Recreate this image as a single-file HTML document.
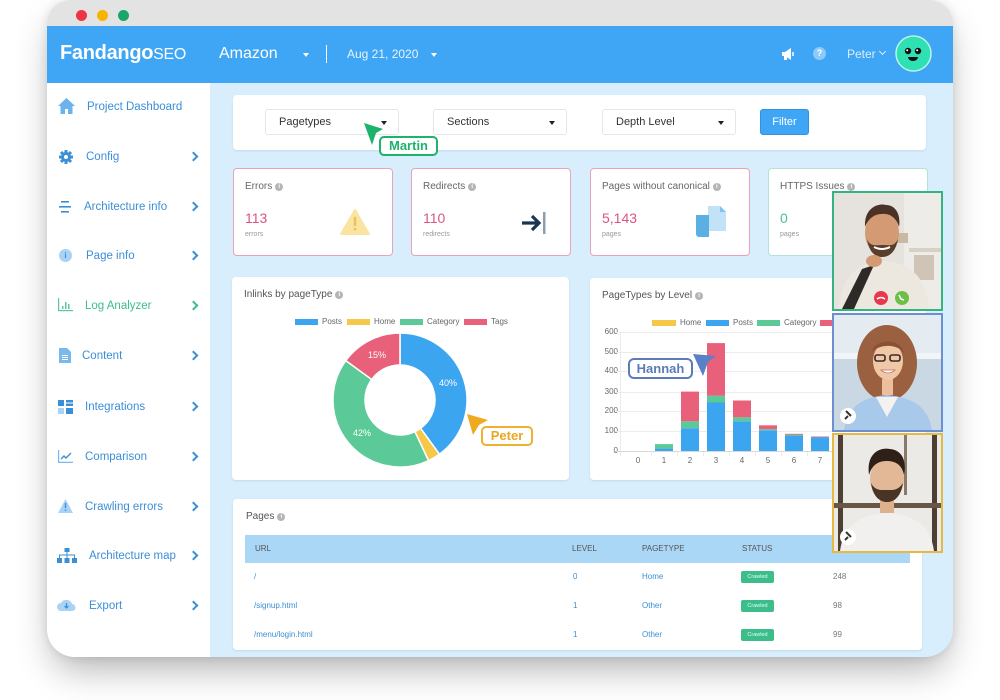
<!DOCTYPE html>
<html><head><meta charset="utf-8">
<style>
*{margin:0;padding:0;box-sizing:border-box}
html,body{width:1000px;height:700px;overflow:hidden;background:#fff;font-family:"Liberation Sans",sans-serif}
.a{position:absolute;white-space:nowrap}
#win{position:absolute;left:47px;top:0;width:906px;height:657px;border-radius:24px 24px 28px 28px;overflow:hidden;background:#d9eefd;box-shadow:0 18px 36px -6px rgba(0,0,0,0.30),0 0 10px rgba(0,0,0,0.10)}
.side{color:#3b8ed8;font-size:11.5px;line-height:14px}
.chev{position:absolute;width:7px;height:7px;border-right:2px solid #3a8fd6;border-top:2px solid #3a8fd6;transform:rotate(45deg)}
.panel{position:absolute;background:#fff;border-radius:4px;box-shadow:0 1px 2px rgba(150,180,210,0.35)}
.dd{position:absolute;background:#fff;border:1px solid #e6e6e6;border-radius:3px;height:26px;top:109px;width:134px;font-size:11px;color:#333;line-height:24px;padding-left:13px}
.dd:after{content:"";position:absolute;right:11px;top:11px;border-left:3.5px solid transparent;border-right:3.5px solid transparent;border-top:4px solid #222}
.card{position:absolute;top:168px;width:160px;height:88px;background:#fff;border:1px solid #e6a3bb;border-radius:4px}
.ct{position:absolute;left:11px;top:12px;font-size:10px;color:#666}
.cv{position:absolute;left:11px;top:41px;font-size:14px;color:#d9577e}
.cs{position:absolute;left:11px;top:62px;font-size:7px;color:#999}
.info{display:inline-block;width:8px;height:8px;border-radius:50%;background:#b5b5b5;color:#fff;font-size:6px;line-height:8px;text-align:center;vertical-align:1px;margin-left:3px;font-weight:bold}
.lg{position:absolute;font-size:8px;color:#666;line-height:10px}
.sw{position:absolute;height:6px;width:23px}
.yl{position:absolute;font-size:8px;color:#666;width:20px;text-align:right;left:598px;line-height:10px}
.xl{position:absolute;font-size:8px;color:#666;top:456px;width:10px;text-align:center;line-height:10px}
.th{position:absolute;top:544px;font-size:8px;color:#555;line-height:10px}
.td{position:absolute;font-size:8px;color:#3a8fd6;line-height:10px}
.tn{position:absolute;font-size:8px;color:#777;line-height:10px;left:833px}
.badge{position:absolute;left:741px;width:33px;height:12px;background:#3dbd8a;border-radius:2px;color:#dff;font-size:5.5px;line-height:12px;text-align:center}
.vid{position:absolute;overflow:hidden}
</style></head><body>

<div id="win">
  <div class="a" style="left:0;top:0;width:906px;height:26px;background:#e3e3e3"></div>
  <div class="a" style="left:0;top:26px;width:906px;height:57px;background:#3ea6f4"></div>
  <div class="a" style="left:0;top:83px;width:163px;height:574px;background:#fff"></div>
</div>

<!-- traffic lights -->
<div class="a" style="left:76px;top:10px;width:11px;height:11px;border-radius:50%;background:#ee3548"></div>
<div class="a" style="left:97px;top:10px;width:11px;height:11px;border-radius:50%;background:#f6b300"></div>
<div class="a" style="left:118px;top:10px;width:11px;height:11px;border-radius:50%;background:#1aa56a"></div>

<!-- header -->
<div class="a" style="left:60px;top:41px;font-size:20px;line-height:24px;color:#fff;font-weight:bold;letter-spacing:-0.3px">Fandango<span style="font-weight:normal;font-size:16px">SEO</span></div>
<div class="a" style="left:219px;top:44px;font-size:16px;line-height:20px;color:#fff">Amazon</div>
<div class="a" style="left:303px;top:53px;border-left:3px solid transparent;border-right:3px solid transparent;border-top:4px solid #fff"></div>
<div class="a" style="left:326px;top:45px;width:1px;height:18px;background:#fff"></div>
<div class="a" style="left:347px;top:47px;font-size:12px;line-height:14px;color:#e8f4ff">Aug 21, 2020</div>
<div class="a" style="left:431px;top:53px;border-left:3px solid transparent;border-right:3px solid transparent;border-top:4px solid #fff"></div>
<svg class="a" style="left:781px;top:47px" width="14" height="14" viewBox="0 0 14 14"><path d="M1 5h3l6-4v12l-6-4H1z" fill="#fff"/><rect x="3" y="9" width="3" height="4" fill="#fff"/><rect x="11" y="5" width="2" height="4" fill="#cfe8fc"/></svg>
<div class="a" style="left:813px;top:47px;width:13px;height:13px;border-radius:50%;background:#8ccaf8;color:#fff;font-size:9px;line-height:13px;text-align:center;font-weight:bold">?</div>
<div class="a" style="left:847px;top:47px;font-size:12px;line-height:14px;color:#ddeeff">Peter</div>
<div class="a" style="left:880px;top:49px;width:5px;height:5px;border-right:1px solid #ddeeff;border-bottom:1px solid #ddeeff;transform:rotate(45deg)"></div>
<svg class="a" style="left:895px;top:35px" width="37" height="37" viewBox="0 0 37 37"><circle cx="18.5" cy="18.5" r="17.5" fill="#2fe0b2" stroke="#b8f5e6" stroke-width="1.5"/><circle cx="13" cy="16" r="3.2" fill="#111"/><circle cx="23" cy="16" r="3.2" fill="#111"/><circle cx="12.2" cy="15.2" r="1" fill="#fff"/><circle cx="22.2" cy="15.2" r="1" fill="#fff"/><path d="M13 22h10a5 4 0 0 1-10 0z" fill="#111"/></svg>

<!-- sidebar -->
<svg class="a" style="left:57px;top:97px" width="19" height="18" viewBox="0 0 19 18"><path d="M9.5 1L1 9h2.5v8h4.5v-5h3v5h4.5V9H18z" fill="#6cb2ec"/></svg>
<div class="a side" style="left:87px;top:100px">Project Dashboard</div>

<svg class="a" style="left:59px;top:150px" width="14" height="14" viewBox="0 0 14 14"><circle cx="7" cy="7" r="5" fill="#3a8fd6"/><g stroke="#3a8fd6" stroke-width="3"><line x1="7" y1="0" x2="7" y2="14"/><line x1="0" y1="7" x2="14" y2="7"/><line x1="2" y1="2" x2="12" y2="12"/><line x1="12" y1="2" x2="2" y2="12"/></g><circle cx="7" cy="7" r="2" fill="#fff"/></svg>
<div class="a side" style="left:86px;top:150px">Config</div>
<div class="chev" style="left:190px;top:153px"></div>

<svg class="a" style="left:58px;top:200px" width="14" height="14" viewBox="0 0 14 14"><g fill="#3a8fd6"><rect x="3" y="1" width="8" height="1.6"/><rect x="1" y="6" width="12" height="1.6"/><rect x="3" y="11" width="8" height="1.6"/></g></svg>
<div class="a side" style="left:84px;top:200px">Architecture info</div>
<div class="chev" style="left:190px;top:203px"></div>

<div class="a" style="left:59px;top:249px;width:13px;height:13px;border-radius:50%;background:#a9d2f4;color:#3a8fd6;font-size:8px;line-height:13px;text-align:center;font-weight:bold">i</div>
<div class="a side" style="left:86px;top:249px">Page info</div>
<div class="chev" style="left:190px;top:252px"></div>

<svg class="a" style="left:58px;top:298px" width="15" height="14" viewBox="0 0 15 14"><g fill="#5cc79a"><rect x="0" y="0" width="1.2" height="13"/><rect x="0" y="12" width="15" height="1.2"/><rect x="4" y="8" width="1.5" height="3"/><rect x="7" y="4" width="1.5" height="7"/><rect x="10" y="6" width="1.5" height="5"/></g></svg>
<div class="a side" style="left:85px;top:299px;color:#3dbd8a">Log Analyzer</div>
<div class="chev" style="left:190px;top:302px;border-color:#3dbd8a"></div>

<svg class="a" style="left:59px;top:348px" width="12" height="15" viewBox="0 0 12 15"><path d="M0 0h8l4 4v11H0z" fill="#7ab9ee"/><g fill="#fff"><rect x="3" y="7" width="6" height="1"/><rect x="3" y="9" width="6" height="1"/><rect x="3" y="11" width="6" height="1"/></g></svg>
<div class="a side" style="left:82px;top:349px">Content</div>
<div class="chev" style="left:190px;top:352px"></div>

<svg class="a" style="left:58px;top:400px" width="15" height="14" viewBox="0 0 15 14"><g fill="#3a8fd6"><rect x="0" y="0" width="6" height="6"/><rect x="8" y="0" width="7" height="2.5"/><rect x="8" y="3.5" width="7" height="2.5"/><rect x="8" y="8" width="7" height="6"/></g><rect x="0" y="8" width="6" height="6" fill="#a9d2f4"/></svg>
<div class="a side" style="left:85px;top:400px">Integrations</div>
<div class="chev" style="left:190px;top:403px"></div>

<svg class="a" style="left:58px;top:450px" width="15" height="13" viewBox="0 0 15 13"><path d="M0.6 0v12.4H15" stroke="#7ab9ee" stroke-width="1.2" fill="none"/><path d="M3 9l3-3 2 2 5-5" stroke="#3a8fd6" stroke-width="1.4" fill="none"/></svg>
<div class="a side" style="left:85px;top:450px">Comparison</div>
<div class="chev" style="left:190px;top:453px"></div>

<svg class="a" style="left:58px;top:499px" width="15" height="14" viewBox="0 0 15 14"><path d="M7.5 0L15 14H0z" fill="#a9d2f4"/><rect x="6.8" y="4" width="1.4" height="5" fill="#3a8fd6"/><rect x="6.8" y="10.5" width="1.4" height="1.4" fill="#3a8fd6"/></svg>
<div class="a side" style="left:85px;top:500px">Crawling errors</div>
<div class="chev" style="left:190px;top:503px"></div>

<svg class="a" style="left:57px;top:548px" width="20" height="15" viewBox="0 0 20 15"><g fill="#3a8fd6"><rect x="7.5" y="0" width="5" height="4"/><rect x="0" y="10" width="5" height="5"/><rect x="7.5" y="10" width="5" height="5"/><rect x="15" y="10" width="5" height="5"/></g><path d="M10 4v6M2.5 10V7h15v3" stroke="#3a8fd6" stroke-width="1" fill="none"/></svg>
<div class="a side" style="left:89px;top:549px">Architecture map</div>
<div class="chev" style="left:190px;top:552px"></div>

<svg class="a" style="left:57px;top:598px" width="19" height="14" viewBox="0 0 19 14"><path d="M4 13a4 4 0 0 1 0-8 6 6 0 0 1 11 1 3.5 3.5 0 0 1 0 7z" fill="#a9d2f4"/><path d="M9.5 5v5M7.5 8l2 2 2-2" stroke="#3a8fd6" stroke-width="1.2" fill="none"/></svg>
<div class="a side" style="left:89px;top:599px">Export</div>
<div class="chev" style="left:190px;top:602px"></div>

<!-- filter panel -->
<div class="panel" style="left:233px;top:95px;width:693px;height:55px"></div>
<div class="dd" style="left:265px">Pagetypes</div>
<div class="dd" style="left:433px">Sections</div>
<div class="dd" style="left:602px">Depth Level</div>
<div class="a" style="left:760px;top:109px;width:49px;height:26px;background:#3ea6f4;border:1px solid #2d93e2;border-radius:3px;color:#fff;font-size:11px;line-height:24px;text-align:center">Filter</div>

<!-- cards -->
<div class="card" style="left:233px"><div class="ct">Errors<span class="info">i</span></div><div class="cv">113</div><div class="cs">errors</div>
<svg class="a" style="left:106px;top:40px" width="30" height="26" viewBox="0 0 30 26"><path d="M15 1L29 25H1z" fill="#fbe3a0" stroke="#fbe3a0" stroke-linejoin="round" stroke-width="2"/><rect x="13.8" y="8" width="2.4" height="9" fill="#e9c35a"/><rect x="13.8" y="19" width="2.4" height="2.4" fill="#e9c35a"/></svg></div>
<div class="card" style="left:411px"><div class="ct">Redirects<span class="info">i</span></div><div class="cv">110</div><div class="cs">redirects</div>
<svg class="a" style="left:108px;top:42px" width="28" height="24" viewBox="0 0 28 24"><path d="M2 12h17M12 5l7 7-7 7" stroke="#183650" stroke-width="3.2" fill="none"/><rect x="23" y="1" width="2.5" height="22" fill="#8a9fb0"/></svg></div>
<div class="card" style="left:590px"><div class="ct">Pages without canonical<span class="info">i</span></div><div class="cv">5,143</div><div class="cs">pages</div>
<svg class="a" style="left:104px;top:37px" width="32" height="33" viewBox="0 0 32 33"><path d="M13 0h12l6 6v19H13z" fill="#c2e2f8"/><path d="M25 0l6 6h-6z" fill="#7ec4ef"/><path d="M1 9h13v22H4a3 3 0 0 1-3-3z" fill="#5ab0e2"/></svg></div>
<div class="card" style="left:768px;border-color:#b2e2da"><div class="ct">HTTPS Issues<span class="info">i</span></div><div class="cv" style="color:#4cc0a0">0</div><div class="cs">pages</div></div>

<!-- donut panel -->
<div class="panel" style="left:232px;top:277px;width:337px;height:203px"></div>
<div class="a" style="left:244px;top:289px;font-size:10px;color:#555;line-height:12px">Inlinks by pageType<span class="info">i</span></div>
<div class="sw" style="left:295px;top:319px;background:#3ca5f0"></div><div class="lg" style="left:322px;top:317px">Posts</div>
<div class="sw" style="left:347px;top:319px;background:#f5c84a"></div><div class="lg" style="left:374px;top:317px">Home</div>
<div class="sw" style="left:400px;top:319px;background:#5cc998"></div><div class="lg" style="left:427px;top:317px">Category</div>
<div class="sw" style="left:464px;top:319px;background:#e8607a"></div><div class="lg" style="left:491px;top:317px">Tags</div>
<svg class="a" style="left:0;top:0" width="1000" height="700" viewBox="0 0 1000 700">
<g stroke="#fff" stroke-width="1.5">
<path d="M400,333 A67,67 0 0 1 439.38,454.20 L420.57,428.32 A35,35 0 0 0 400,365 Z" fill="#3ca5f0"/>
<path d="M439.38,454.20 A67,67 0 0 1 428.53,460.62 L414.90,431.67 A35,35 0 0 0 420.57,428.32 Z" fill="#f5c84a"/>
<path d="M428.53,460.62 A67,67 0 0 1 345.80,360.62 L371.69,379.43 A35,35 0 0 0 414.90,431.67 Z" fill="#5cc998"/>
<path d="M345.80,360.62 A67,67 0 0 1 400,333 L400,365 A35,35 0 0 0 371.69,379.43 Z" fill="#e8607a"/>
</g>
<g font-family="Liberation Sans" font-size="9" fill="#fff" text-anchor="middle">
<text x="448" y="386">40%</text><text x="377" y="358">15%</text><text x="362" y="436">42%</text>
</g>
</svg>

<!-- bar panel -->
<div class="panel" style="left:590px;top:278px;width:336px;height:202px"></div>
<div class="a" style="left:602px;top:290px;font-size:10px;color:#555;line-height:12px">PageTypes by Level<span class="info">i</span></div>
<div class="sw" style="left:652px;top:320px;width:24px;background:#f5c84a"></div><div class="lg" style="left:680px;top:318px">Home</div>
<div class="sw" style="left:706px;top:320px;background:#3ca5f0"></div><div class="lg" style="left:733px;top:318px">Posts</div>
<div class="sw" style="left:757px;top:320px;background:#5cc998"></div><div class="lg" style="left:784px;top:318px">Category</div>
<div class="sw" style="left:820px;top:320px;background:#e8607a"></div>
<div class="yl" style="top:327px">600</div><div class="yl" style="top:347px">500</div><div class="yl" style="top:366px">400</div><div class="yl" style="top:387px">300</div><div class="yl" style="top:406px">200</div><div class="yl" style="top:426px">100</div><div class="yl" style="top:446px">0</div>
<div class="xl" style="left:633px">0</div><div class="xl" style="left:659px">1</div><div class="xl" style="left:685px">2</div><div class="xl" style="left:711px">3</div><div class="xl" style="left:737px">4</div><div class="xl" style="left:763px">5</div><div class="xl" style="left:789px">6</div><div class="xl" style="left:815px">7</div>
<svg class="a" style="left:0;top:0" width="1000" height="700" viewBox="0 0 1000 700">
<g stroke="#ececec" stroke-width="1">
<line x1="615" y1="332.5" x2="840" y2="332.5"/><line x1="615" y1="352.5" x2="840" y2="352.5"/><line x1="615" y1="371.5" x2="840" y2="371.5"/><line x1="615" y1="392.5" x2="840" y2="392.5"/><line x1="615" y1="411.5" x2="840" y2="411.5"/><line x1="615" y1="431.5" x2="840" y2="431.5"/>
<line x1="620.5" y1="332" x2="620.5" y2="456"/>
<line x1="651.5" y1="451" x2="651.5" y2="456"/><line x1="677.5" y1="451" x2="677.5" y2="456"/><line x1="703.5" y1="451" x2="703.5" y2="456"/><line x1="729.5" y1="451" x2="729.5" y2="456"/><line x1="755.5" y1="451" x2="755.5" y2="456"/><line x1="781.5" y1="451" x2="781.5" y2="456"/><line x1="807.5" y1="451" x2="807.5" y2="456"/>
</g>
<line x1="615" y1="451.5" x2="840" y2="451.5" stroke="#d8d8d8"/>
<g>
<rect x="655" y="448.6" width="18" height="2.4" fill="#3ca5f0"/><rect x="655" y="444.1" width="18" height="4.5" fill="#5cc998"/>
<rect x="681" y="428.2" width="18" height="22.8" fill="#3ca5f0"/><rect x="681" y="421.3" width="18" height="6.9" fill="#5cc998"/><rect x="681" y="391.6" width="18" height="29.7" fill="#e8607a"/>
<rect x="707" y="402.5" width="18" height="48.5" fill="#3ca5f0"/><rect x="707" y="395.6" width="18" height="6.9" fill="#5cc998"/><rect x="707" y="343.1" width="18" height="52.5" fill="#e8607a"/>
<rect x="733" y="421.3" width="18" height="29.7" fill="#3ca5f0"/><rect x="733" y="417.3" width="18" height="4" fill="#5cc998"/><rect x="733" y="400.5" width="18" height="16.8" fill="#e8607a"/>
<rect x="759" y="430.2" width="18" height="20.8" fill="#3ca5f0"/><rect x="759" y="429.2" width="18" height="1" fill="#5cc998"/><rect x="759" y="425.3" width="18" height="3.9" fill="#e8607a"/>
<rect x="785" y="435.6" width="18" height="15.4" fill="#3ca5f0"/><rect x="785" y="434.6" width="18" height="1" fill="#5cc998"/><rect x="785" y="433.8" width="18" height="0.8" fill="#e8607a"/>
<rect x="811" y="437.1" width="18" height="13.9" fill="#3ca5f0"/><rect x="811" y="436.5" width="18" height="0.6" fill="#e8607a"/>
</g>
</svg>

<!-- table -->
<div class="panel" style="left:233px;top:499px;width:689px;height:151px"></div>
<div class="a" style="left:246px;top:511px;font-size:10px;color:#555;line-height:12px">Pages<span class="info">i</span></div>
<div class="a" style="left:245px;top:535px;width:665px;height:28px;background:#aad7f6"></div>
<div class="th" style="left:255px">URL</div><div class="th" style="left:572px">LEVEL</div><div class="th" style="left:642px">PAGETYPE</div><div class="th" style="left:742px">STATUS</div>
<div class="td" style="left:254px;top:572px">/</div><div class="td" style="left:573px;top:572px">0</div><div class="td" style="left:642px;top:572px">Home</div><div class="badge" style="top:571px">Crawled</div><div class="tn" style="top:572px">248</div>
<div class="td" style="left:254px;top:601px">/signup.html</div><div class="td" style="left:573px;top:601px">1</div><div class="td" style="left:642px;top:601px">Other</div><div class="badge" style="top:600px">Crawled</div><div class="tn" style="top:601px">98</div>
<div class="td" style="left:254px;top:630px">/menu/login.html</div><div class="td" style="left:573px;top:630px">1</div><div class="td" style="left:642px;top:630px">Other</div><div class="badge" style="top:629px">Crawled</div><div class="tn" style="top:630px">99</div>

<!-- cursors -->
<svg class="a" style="left:0;top:0" width="1000" height="700" viewBox="0 0 1000 700">
<path d="M364,123 L383,129 L376,133 L372,145 Z" fill="#1db36b"/>
<path d="M467,414 L488,420 L479,425 L473,435 Z" fill="#f0aa20"/>
<path d="M693,354 L716,356 L708,362 L703,376 Z" fill="#5a80c8"/>
</svg>
<div class="a" style="left:379px;top:136px;width:59px;height:20px;border:2px solid #1db36b;border-radius:5px;background:#fff;color:#1db36b;font-weight:bold;font-size:13px;line-height:16px;text-align:center">Martin</div>
<div class="a" style="left:481px;top:426px;width:52px;height:20px;border:2px solid #f0b030;border-radius:5px;background:#fff;color:#e8a820;font-weight:bold;font-size:13px;line-height:16px;text-align:center">Peter</div>
<div class="a" style="left:628px;top:358px;width:65px;height:21px;border:2px solid #5a7cb8;border-radius:6px;background:#fff;color:#5a7cb8;font-weight:bold;font-size:13px;line-height:17px;text-align:center">Hannah</div>

<!-- videos -->
<div class="vid" style="left:832px;top:191px;width:111px;height:120px;border:2px solid #36b37e">
<svg width="107" height="116" viewBox="0 0 107 116">
<rect width="107" height="116" fill="#e6e3de"/>
<rect x="70" y="0" width="37" height="116" fill="#eeece8"/>
<rect x="75" y="55" width="32" height="4" fill="#d8d0c4"/><rect x="80" y="62" width="20" height="25" fill="#cfc4b6"/>
<rect x="60" y="40" width="14" height="10" fill="#c9b9a2"/>
<path d="M5 116 C8 80 25 70 50 68 C75 70 92 82 95 116Z" fill="#ece8e0"/>
<path d="M28 76 L40 72 L20 116 L8 116Z" fill="#2e2a28"/>
<ellipse cx="48" cy="40" rx="17" ry="22" fill="#d49a74"/>
<path d="M31 34 C30 14 45 10 52 12 C62 12 67 22 65 34 C62 24 55 20 48 21 C40 21 34 26 31 34Z" fill="#4a3326"/>
<path d="M33 46 C35 60 42 64 48 64 C56 64 62 58 64 46 C60 54 56 52 48 52 C42 52 36 54 33 46Z" fill="#5a3e2c"/>
<path d="M40 54 Q48 58 56 54" stroke="#fff" stroke-width="2" fill="none"/>
<ellipse cx="40" cy="68" rx="8" ry="6" fill="#d49a74"/>
<circle cx="47" cy="105" r="7" fill="#e8384f"/><circle cx="68" cy="105" r="7" fill="#6cc04a"/>
<path d="M43 106 q4 -3 8 0" stroke="#fff" stroke-width="1.5" fill="none"/><path d="M65 102 l2 4 l3 1" stroke="#fff" stroke-width="1.5" fill="none"/>
</svg></div>

<div class="vid" style="left:832px;top:313px;width:111px;height:119px;border:2px solid #6b8fcf">
<svg width="107" height="115" viewBox="0 0 107 115">
<rect width="107" height="115" fill="#c9d8e3"/>
<rect width="107" height="38" fill="#e4ecf1"/>
<rect x="0" y="38" width="107" height="6" fill="#f2f5f7"/>
<ellipse cx="53" cy="48" rx="30" ry="38" fill="#9a6040"/>
<path d="M10 115 C14 90 30 82 53 80 C76 82 94 90 98 115Z" fill="#a9c9ea"/>
<path d="M42 82 L53 102 L64 82Z" fill="#f4f2f0"/>
<rect x="48" y="64" width="11" height="16" fill="#eebd9c"/>
<ellipse cx="54" cy="46" rx="15" ry="19" fill="#f0c8a8"/>
<path d="M38 36 C42 24 66 22 70 38 C64 30 50 28 38 36Z" fill="#8a5233"/>
<rect x="41" y="40" width="10" height="6" rx="2" fill="none" stroke="#3a2a22" stroke-width="1.6"/><rect x="56" y="40" width="10" height="6" rx="2" fill="none" stroke="#3a2a22" stroke-width="1.6"/>
<path d="M47 55 Q54 61 61 55Z" fill="#fff" stroke="#c06060" stroke-width="0.8"/>
<circle cx="14" cy="101" r="8" fill="#fff"/><path d="M12 96 l5 5 M11 104 l3 -3" stroke="#333" stroke-width="2"/>
</svg></div>

<div class="vid" style="left:832px;top:433px;width:111px;height:120px;border:2px solid #e6b844">
<svg width="107" height="116" viewBox="0 0 107 116">
<rect width="107" height="116" fill="#eceae6"/>
<rect x="4" y="0" width="5" height="116" fill="#4e3f34"/><rect x="98" y="0" width="5" height="116" fill="#4e3f34"/>
<rect x="0" y="68" width="107" height="5" fill="#6a5646"/>
<rect x="70" y="0" width="3" height="60" fill="#8a7a6a"/>
<path d="M6 116 C10 88 28 80 53 78 C78 80 96 88 100 116Z" fill="#f1f0ee"/>
<rect x="46" y="62" width="14" height="16" fill="#ddb08e"/>
<ellipse cx="53" cy="44" rx="17" ry="22" fill="#e2b896"/>
<path d="M35 40 C32 18 46 12 56 14 C68 15 73 26 70 40 C68 30 62 26 53 26 C44 26 38 30 35 40Z" fill="#2e2018"/>
<path d="M37 48 C39 62 46 67 53 67 C61 67 67 61 69 48 C64 56 58 55 53 55 C47 55 41 56 37 48Z" fill="#4a3426"/>
<circle cx="14" cy="102" r="8" fill="#fff"/><path d="M12 97 l5 5 M11 105 l3 -3" stroke="#333" stroke-width="2"/>
</svg></div>

</body></html>
